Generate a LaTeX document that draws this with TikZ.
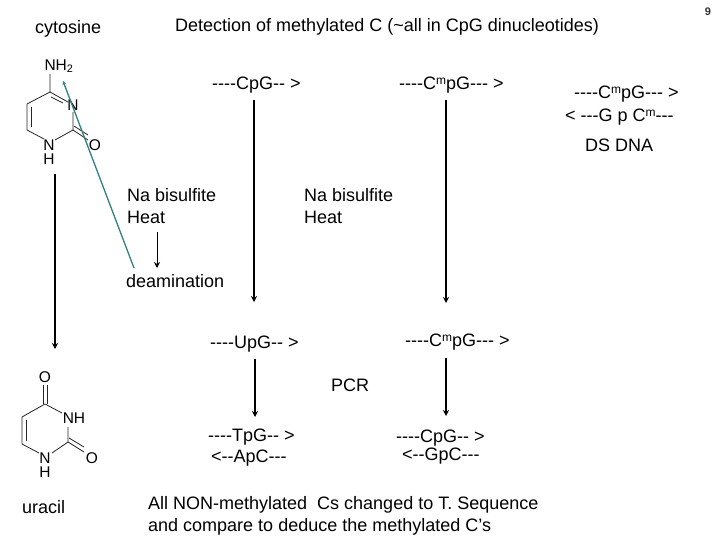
\documentclass[tikz,border=0pt]{standalone}
\usepackage{fontspec}
\newfontfamily\plainsans{Liberation Sans}
\usetikzlibrary{arrows.meta}
\tikzset{
 lab/.style={inner sep=0pt,align=left,font=\plainsans\fontsize{18}{22}\selectfont,text=black},
 chem/.style={inner sep=0pt,font=\plainsans\fontsize{15.5}{16}\selectfont,text=black},
 arr/.style={draw=black,line width=1.4pt,-{Stealth[length=6pt,width=6pt]}},
 thinarr/.style={draw=black,line width=1pt,-{Stealth[length=6pt,width=6pt]}},
 bond/.style={draw=black!85,line width=0.8pt},
 tealarr/.style={draw=teal!60!gray,line width=1.3pt,-{Stealth[length=4pt,width=4pt]}},
}
\newcommand{\mup}{\raisebox{0.55ex}{\fontsize{12}{12}\selectfont m}}
\begin{document}
\begin{tikzpicture}[x=1pt,y=-1pt]
\useasboundingbox (0,0) rectangle (720,540);
\fill[white] (0,0) rectangle (720,540);
\node[lab,anchor=west] (t1) at (35,29) {cytosine};
\node[lab,anchor=west] (t2) at (175,27) {Detection of methylated C (\textasciitilde all in CpG dinucleotides)};
\node[inner sep=0pt,font=\plainsans\bfseries\fontsize{11}{11}\selectfont,text=black!80] (pg) at (708,12) {9};
\node[lab,anchor=west] (a1) at (212,85) {----CpG-- >};
\node[lab,anchor=west] (a2) at (399,85) {----C\mup pG--- >};
\node[lab,anchor=west] (a3) at (574,94) {----C\mup pG--- >};
\node[lab,anchor=west] (a4) at (565,117) {< ---G p C\mup---};
\node[lab,anchor=west] (a5) at (585,145) {DS DNA};
\node[lab,anchor=north west] (b1) at (127,188) {Na bisulfite\\Heat};
\node[lab,anchor=north west] (b2) at (304,188) {Na bisulfite\\Heat};
\node[lab,anchor=west] (b3) at (126,281) {deamination};
\node[lab,anchor=west] (c1) at (210,344) {----UpG-- >};
\node[lab,anchor=west] (c2) at (405,342) {----C\mup pG--- >};
\node[lab,anchor=west] (c3) at (331,385) {PCR};
\node[lab,anchor=west] (d1) at (208,437) {----TpG-- >};
\node[lab,anchor=west] (d2) at (211,458) {<--ApC---};
\node[lab,anchor=west] (d3) at (396,438) {----CpG-- >};
\node[lab,anchor=west] (d4) at (402,456) {<--GpC---};
\node[lab,anchor=west] (u) at (22,507) {uracil};
\node[lab,anchor=north west] (e) at (148,496) {All NON-methylated\ \ Cs changed to T. Sequence\\and compare to deduce the methylated C’s};
% connectors
\coordinate (p1) at (254,100); \coordinate (p2) at (254,302);
\coordinate (q1) at (446,100); \coordinate (q2) at (446,303);
\coordinate (r1) at (255,359); \coordinate (r2) at (255,417);
\coordinate (s1) at (446,358); \coordinate (s2) at (446,416);
\coordinate (v1) at (55,174); \coordinate (v2) at (55,349);
\coordinate (w1) at (157,232); \coordinate (w2) at (157,268);
\coordinate (g1) at (134,268); \coordinate (g2) at (63,81);
\draw[arr] (p1)--(p2); \draw[arr] (q1)--(q2);
\draw[arr] (r1)--(r2); \draw[arr] (s1)--(s2);
\draw[arr] (v1)--(v2); \draw[thinarr] (w1)--(w2);
% cytosine
\node[chem] (cn) at (59,66) {NH\textsubscript{2}};
\node[chem] (cn3) at (73,105) {N};
\node[chem] (cn1) at (49,145) {N};
\node[chem] (ch1) at (49,159) {H};
\node[chem] (co) at (95,145) {O};
\draw[bond] (50,74)--(50,92)--(27,104)--(27,130)--(44,139);
\draw[bond] (31,107)--(31,127);
\draw[bond] (50,92)--(68,102);
\draw[bond] (51,97)--(63,103);
\draw[bond] (73,112)--(73,130)--(55,140);
\draw[bond] (73,130)--(88,140);
\draw[bond] (74,126)--(88,135);
% uracil
\node[chem] (uo1) at (45,377) {O};
\node[chem] (un3) at (74,418) {NH};
\node[chem] (un1) at (45,458) {N};
\node[chem] (uh1) at (45,472) {H};
\node[chem] (uo2) at (92,458) {O};
\draw[bond] (43,385)--(43,404); \draw[bond] (47,385)--(47,404);
\draw[bond] (45,404)--(22,417)--(22,444)--(39,453);
\draw[bond] (26,420)--(26,441);
\draw[bond] (45,404)--(62,413);
\draw[bond] (68,427)--(68,442)--(52,453);
\draw[bond] (68,442)--(84,452);
\draw[bond] (69,438)--(84,447);
\draw[tealarr] (g1)--(g2);
\end{tikzpicture}
\end{document}
